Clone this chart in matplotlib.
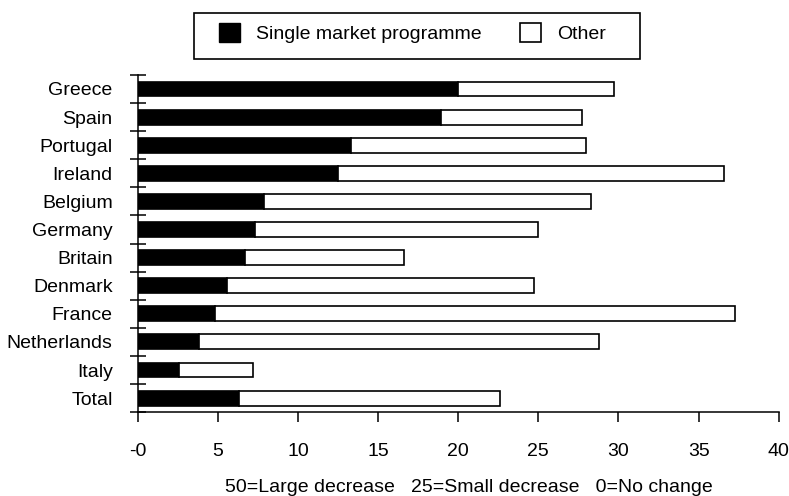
import matplotlib.pyplot as plt
from matplotlib.patches import Patch, Rectangle
import numpy as np

plt.rcParams["font.family"] = ["Liberation Sans", "DejaVu Sans"]

countries = ["Greece", "Spain", "Portugal", "Ireland", "Belgium", "Germany",
             "Britain", "Denmark", "France", "Netherlands", "Italy", "Total"]
single_market = [20.0, 18.9, 13.3, 12.5, 7.9, 7.3, 6.7, 5.6, 4.8, 3.8, 2.6, 6.3]
other = [9.7, 8.8, 14.7, 24.1, 20.4, 17.7, 9.9, 19.1, 32.5, 25.0, 4.6, 16.3]
x_ticks = [0, 5, 10, 15, 20, 25, 30, 35, 40]
x_tick_labels = ["-0", "5", "10", "15", "20", "25", "30", "35", "40"]


def draw_chart():
    fig = plt.figure(figsize=(7.89, 4.96), dpi=100)
    ax = fig.add_axes([0.1745, 0.169, 0.8125, 0.68])

    y = np.arange(len(countries))
    ax.barh(y, single_market, height=0.53, color="black",
            edgecolor="black", linewidth=1.2)
    ax.barh(y, other, left=single_market, height=0.53, color="white",
            edgecolor="black", linewidth=1.2)

    ax.set_xlim(0, 40)
    ax.set_ylim(len(countries) - 0.5, -0.5)

    # row boundaries carry the tick marks, row centres carry the names
    ax.set_yticks(np.arange(len(countries) + 1) - 0.5)
    ax.set_yticklabels([])
    ax.set_yticks(y, minor=True)
    ax.set_yticklabels(countries, minor=True, fontsize=14)
    ax.tick_params(axis="y", which="major", direction="inout", length=11.5,
                   width=1.1)
    ax.tick_params(axis="y", which="minor", length=0, pad=18)

    ax.set_xticks(x_ticks)
    ax.set_xticklabels(x_tick_labels, fontsize=14)
    ax.tick_params(axis="x", direction="out", length=7.5, width=1.1, pad=14.5)

    for side in ["top", "right"]:
        ax.spines[side].set_visible(False)
    for side in ["left", "bottom"]:
        ax.spines[side].set_linewidth(1.1)

    fig.text(0.594, 0.008,
             "50=Large decrease   25=Small decrease   0=No change",
             ha="center", va="baseline", fontsize=14)

    # legend box drawn separately so its padding can be uneven like the original
    fig.patches.append(Rectangle((194 / 789, 1 - 59 / 496), 446 / 789, 46 / 496,
                                 transform=fig.transFigure, fill=False,
                                 edgecolor="black", linewidth=1.2))
    handles = [Patch(facecolor="black", edgecolor="black"),
               Patch(facecolor="white", edgecolor="black", linewidth=1.2)]
    fig.legend(handles, ["Single market programme", "Other"], ncol=2,
               loc="center", bbox_to_anchor=(412.5 / 789, 1 - 33 / 496),
               fontsize=14, frameon=False, borderpad=0,
               handlelength=1.08, handleheight=1.08,
               handletextpad=0.8, columnspacing=2.0)

    fig.savefig("out.png", dpi=100)


draw_chart()
